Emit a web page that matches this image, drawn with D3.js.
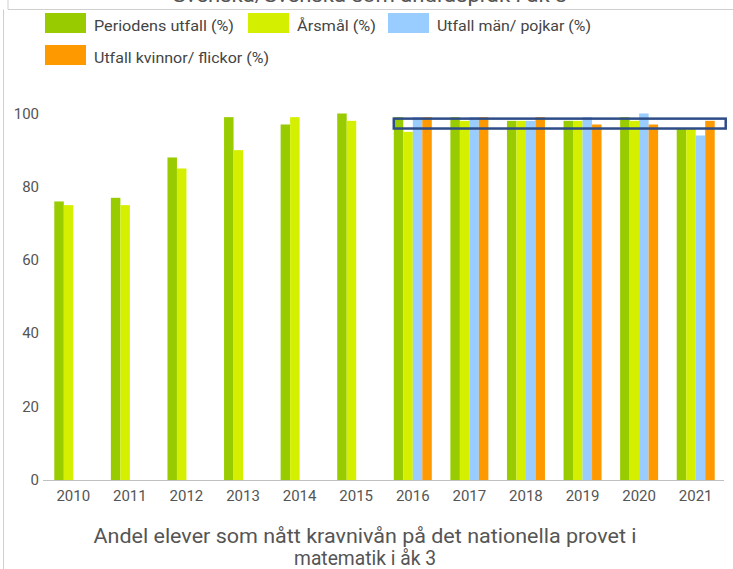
<!DOCTYPE html>
<html>
<head>
<meta charset="utf-8">
<script src="https://cdn.jsdelivr.net/npm/d3@7"></script>
<style>
  body { margin: 0; background: #fff; }
  svg { display: block; font-family: Roboto, "Noto Sans", sans-serif; }
</style>
</head>
<body>
<svg id="chart" width="733" height="569"></svg>
<script>
const years = ["2010", "2011", "2012", "2013", "2014", "2015", "2016", "2017", "2018", "2019", "2020", "2021"];
const series = ["Periodens utfall (%)", "Årsmål (%)", "Utfall män/ pojkar (%)", "Utfall kvinnor/ flickor (%)"];
const colors = ["#99cc00", "#d4ef00", "#99ccff", "#ff9900"];

const periodens = [76, 77, 88, 99, 97, 100, 99, 99, 98, 98, 99, 96];
const arsmal = [75, 75, 85, 90, 99, 98, 95, 98, 98, 98, 98, 96];
const man = [null, null, null, null, null, null, 99, 99, 98, 99, 100, 94];
const kvinnor = [null, null, null, null, null, null, 99, 99, 99, 97, 97, 98];
const yTicks = [0, 20, 40, 60, 80, 100];

const title = ["Andel elever som nått kravnivån på det nationella provet i", "matematik i åk 3"];
const cutTitle = "Svenska/Svenska som andraspråk i åk 3";

const values = [periodens, arsmal, man, kvinnor];

const svg = d3.select("#chart");

// frame of the panel
svg.append("path")
  .attr("d", "M8,0V9.5H733M3.5,9.5V569")
  .attr("fill", "none")
  .attr("stroke", "#cfcfcf");

// title of the panel above, mostly scrolled out of view
svg.append("text")
  .attr("x", 370).attr("y", 2)
  .attr("text-anchor", "middle")
  .attr("font-size", 21)
  .attr("fill", "#555")
  .attr("textLength", 395)
  .attr("lengthAdjust", "spacingAndGlyphs")
  .text(cutTitle);

const x = d3.scaleBand().domain(years).range([45, 724]);
const x1 = d3.scaleBand().domain(d3.range(series.length)).range([-19, 19]);
const y = d3.scaleLinear().domain([0, 100]).range([480, 113.5]);

// legend
const legendPos = [[45, 13], [248, 13], [388, 13], [45, 45]];
const legendWidth = [140, 79, 154, 175];
const legend = svg.append("g").selectAll("g")
  .data(series)
  .join("g")
  .attr("transform", (d, i) => `translate(${legendPos[i][0]},${legendPos[i][1]})`);
legend.append("rect")
  .attr("width", 41).attr("height", 20)
  .attr("fill", (d, i) => colors[i]);
legend.append("text")
  .attr("x", 49).attr("y", 18)
  .attr("font-size", 15)
  .attr("fill", "#444")
  .attr("textLength", (d, i) => legendWidth[i])
  .attr("lengthAdjust", "spacingAndGlyphs")
  .text((d) => d);

// bars
const groups = svg.append("g").selectAll("g")
  .data(years)
  .join("g")
  .attr("transform", (d) => `translate(${x(d) + x.bandwidth() / 2},0)`);

groups.selectAll("rect")
  .data((d, i) => values.map((v, s) => ({ s, v: v[i] })).filter((d) => d.v != null))
  .join("rect")
  .attr("x", (d) => x1(d.s))
  .attr("width", x1.bandwidth())
  .attr("y", (d) => y(d.v))
  .attr("height", (d) => y(0) - y(d.v))
  .attr("fill", (d) => colors[d.s]);

// axes
svg.append("line")
  .attr("x1", 43).attr("x2", 724)
  .attr("y1", y(0) + 0.5).attr("y2", y(0) + 0.5)
  .attr("stroke", "#c0c0c0");

svg.append("g").selectAll("text")
  .data(yTicks)
  .join("text")
  .attr("x", 39).attr("y", (d) => y(d) + 5)
  .attr("text-anchor", "end")
  .attr("font-size", 15)
  .attr("fill", "#555")
  .text((d) => d);

svg.append("g").selectAll("text")
  .data(years)
  .join("text")
  .attr("x", (d) => x(d) + x.bandwidth() / 2)
  .attr("y", 501)
  .attr("text-anchor", "middle")
  .attr("font-size", 15)
  .attr("fill", "#555")
  .text((d) => d);

// highlight box around the 2016-2021 tops
const boxLeft = x("2016") + x.bandwidth() / 2 - 19;
const boxRight = x("2021") + x.bandwidth() / 2 + 30;
svg.append("rect")
  .attr("x", boxLeft)
  .attr("y", y(98.6))
  .attr("width", boxRight - boxLeft)
  .attr("height", y(95.9) - y(98.6))
  .attr("fill", "none")
  .attr("stroke", "#2e4d87")
  .attr("stroke-width", 2.5);

const titleWidth = [543, 142];
svg.append("g").selectAll("text")
  .data(title)
  .join("text")
  .attr("x", 365)
  .attr("y", (d, i) => 543 + i * 22)
  .attr("text-anchor", "middle")
  .attr("font-size", 20)
  .attr("fill", "#555")
  .attr("textLength", (d, i) => titleWidth[i])
  .attr("lengthAdjust", "spacingAndGlyphs")
  .text((d) => d);
</script>
</body>
</html>
